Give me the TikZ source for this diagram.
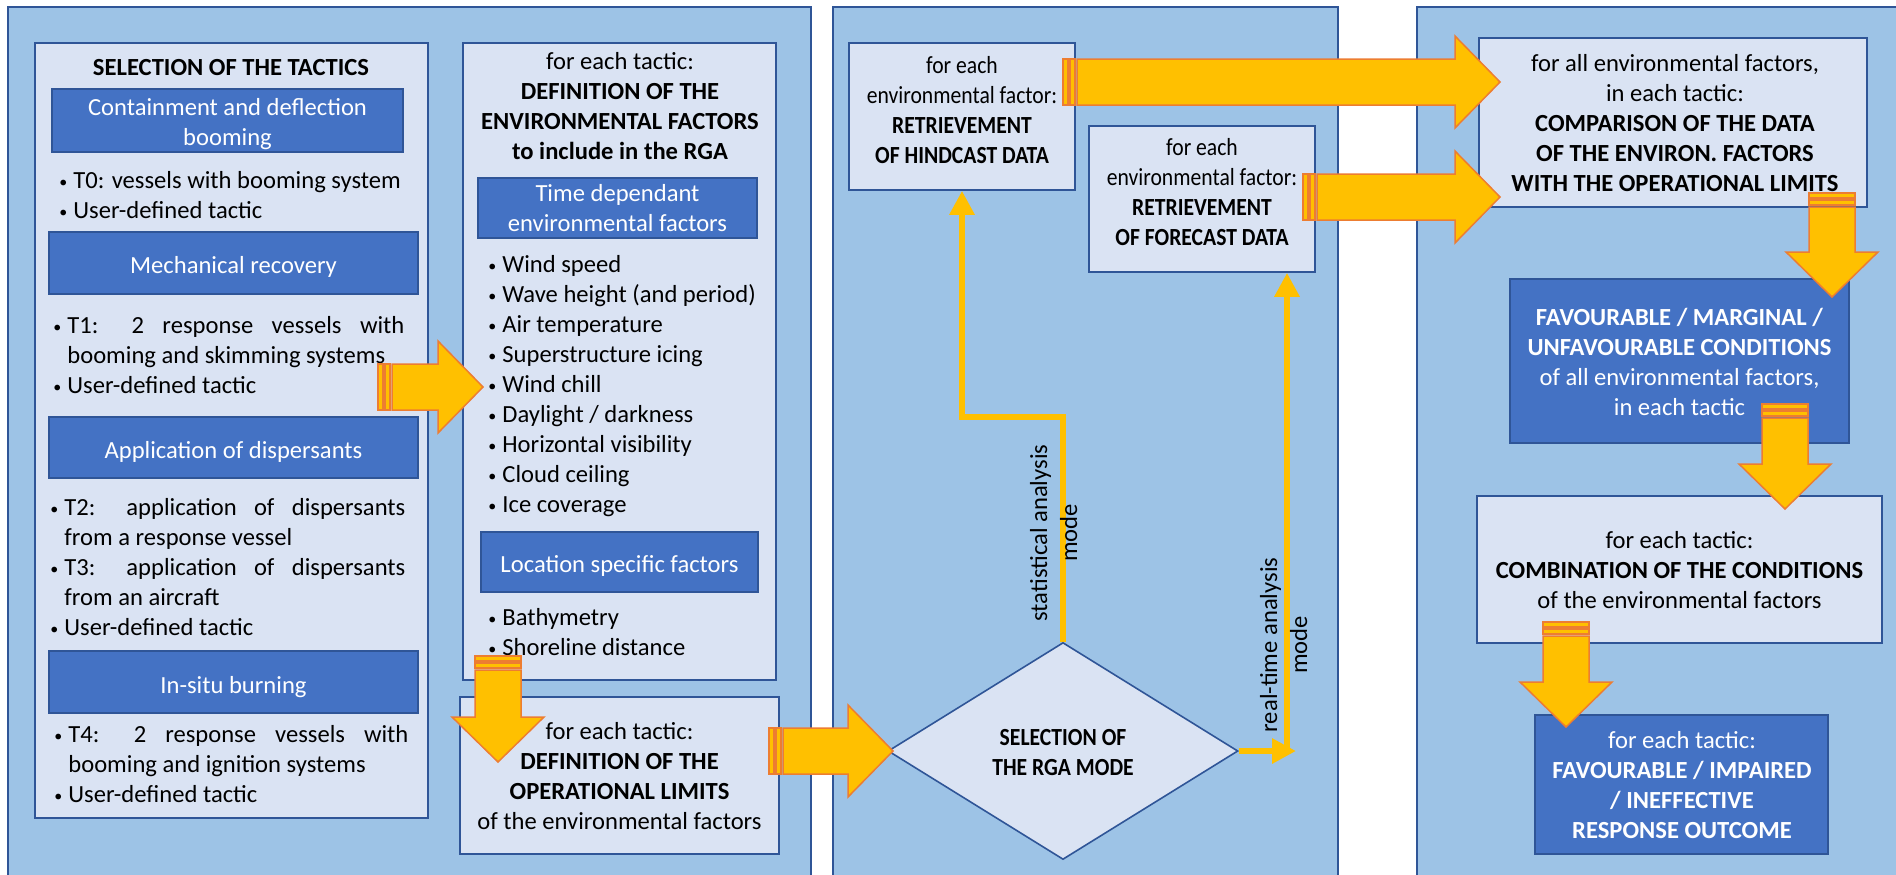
\documentclass[tikz,border=0pt]{standalone}
\usepackage{fontspec}
\setmainfont{Carlito}
\newfontfamily\narrowcal{Carlito}[FakeStretch=0.88]
\usetikzlibrary{shapes.geometric, arrows.meta, positioning, calc, fit}

\definecolor{panelblue}{HTML}{9DC3E6}
\definecolor{boxlight}{HTML}{DAE3F3}
\definecolor{boxdark}{HTML}{4472C4}
\definecolor{boxline}{HTML}{2F5597}
\definecolor{arrowyellow}{HTML}{FFC000}
\definecolor{arroworange}{HTML}{ED7D31}

% bullet item with hanging indent
\newcommand{\itm}[1]{\par\noindent\hangindent=7pt\hangafter=1%
  \makebox[7pt][l]{\strut\raisebox{0.4pt}{\fontsize{8pt}{8pt}\selectfont\textbullet}}#1\strut}

% striped block arrows (pixel units)
\newcommand{\fatright}[2]{%
  \filldraw[fatarrow] ($(#1)+(0,-23)$) rectangle ($(#1)+(5,23)$);
  \filldraw[fatarrow] ($(#1)+(7,-23)$) rectangle ($(#1)+(12,23)$);
  \filldraw[fatarrow] ($(#1)+(14,-23)$) -- ($(#2)+(-45,-23)$) -- ($(#2)+(-45,-46)$) -- (#2)
    -- ($(#2)+(-45,46)$) -- ($(#2)+(-45,23)$) -- ($(#1)+(14,23)$) -- cycle;}
\newcommand{\fatdown}[2]{%
  \filldraw[fatarrow] ($(#1)+(-23,0)$) rectangle ($(#1)+(23,5)$);
  \filldraw[fatarrow] ($(#1)+(-23,7)$) rectangle ($(#1)+(23,12)$);
  \filldraw[fatarrow] ($(#1)+(-23,14)$) -- ($(#2)+(-23,-45)$) -- ($(#2)+(-46,-45)$) -- (#2)
    -- ($(#2)+(46,-45)$) -- ($(#2)+(23,-45)$) -- ($(#1)+(23,14)$) -- cycle;}

\begin{document}
\begin{tikzpicture}[x=0.5pt, y=-0.5pt,
    every node/.style={font=\fontsize{12.3pt}{15pt}\selectfont, inner sep=0pt},
    panel/.style={draw=boxline, fill=panelblue, line width=0.8pt},
    lbox/.style={draw=boxline, fill=boxlight, line width=0.8pt},
    dbox/.style={draw=boxline, fill=boxdark, line width=0.8pt},
    txt/.style={align=center, execute at begin node=\strut, execute at end node=\strut},
    txtsm/.style={txt, font=\narrowcal\fontsize{12.3pt}{15pt}\selectfont},
    wtxt/.style={txt, text=white},
    bullets/.style={anchor=west, text width=#1, align=justify},
    fatarrow/.style={fill=arrowyellow, draw=arroworange, line width=0.75pt},
    modearrow/.style={draw=arrowyellow, line width=3pt, -{Triangle[width=12pt, length=12pt]}}]

    \useasboundingbox (0,0) rectangle (1896,874);

    % Panels
    \node[panel, fit={(8,7) (811,880)}] (P1) {};
    \node[panel, fit={(833,7) (1338,880)}] (P2) {};
    \node[panel, fit={(1417,7) (1900,880)}] (P3) {};

    % Selection of the tactics
    \node[lbox, fit={(35,43) (428,818)}] (TAC) {};
    \node[txt] (TACt) at (231,69) {\textbf{SELECTION OF THE TACTICS}};
    \node[dbox, fit={(52,89) (403,152)}] (CDB) {};
    \node[wtxt] (CDBt) at (227.5,126) {Containment and deflection\\booming};
    \node[bullets=176pt] (L0) at (59,193) {\itm{T0: vessels with booming system}\itm{User-defined tactic}};
    \node[dbox, fit={(49,232) (418,294)}] (MR) {};
    \node[wtxt] (MRt) at (233.5,267) {Mechanical recovery};
    \node[bullets=175.5pt] (L1) at (53,353) {\itm{T1: 2 response vessels with\linebreak booming and skimming systems}\itm{User-defined tactic}};
    \node[dbox, fit={(49,417) (418,478)}] (AD) {};
    \node[wtxt] (ADt) at (233.5,452) {Application of dispersants};
    \node[bullets=177.5pt] (L2) at (50,565) {\itm{T2: application of dispersants\linebreak from a response vessel}\itm{T3: application of dispersants\linebreak from an aircraft}\itm{User-defined tactic}};
    \node[dbox, fit={(49,651) (418,713)}] (ISB) {};
    \node[wtxt] (ISBt) at (233.5,687) {In-situ burning};
    \node[bullets=177pt] (L4) at (54,762) {\itm{T4: 2 response vessels with\linebreak booming and ignition systems}\itm{User-defined tactic}};

    % Environmental factors and operational limits
    \node[lbox, fit={(463,43) (776,680)}] (ENV) {};
    \node[txt] (ENVt) at (620,110) {for each tactic:\\\textbf{DEFINITION OF THE}\\\textbf{ENVIRONMENTAL FACTORS}\\\textbf{to include in the RGA}};
    \node[dbox, fit={(478,178) (757,238)}] (TD) {};
    \node[wtxt] (TDt) at (617.5,212) {Time dependant\\environmental factors};
    \node[bullets=140pt] (LTD) at (488,382) {\itm{Wind speed}\itm{Wave height (and period)}\itm{Air temperature}\itm{Superstructure icing}\itm{Wind chill}\itm{Daylight / darkness}\itm{Horizontal visibility}\itm{Cloud ceiling}\itm{Ice coverage}};
    \node[dbox, fit={(481,532) (758,592)}] (LS) {};
    \node[wtxt] (LSt) at (619.5,566) {Location specific factors};
    \node[bullets=140pt] (LLS) at (488,630) {\itm{Bathymetry}\itm{Shoreline distance}};
    \node[lbox, fit={(460,697) (779,854)}] (LIM) {};
    \node[txt] (LIMt) at (619.5,780) {for each tactic:\\\textbf{DEFINITION OF THE}\\\textbf{OPERATIONAL LIMITS}\\of the environmental factors};

    % RGA mode
    \node[lbox, fit={(849,43) (1075,190)}] (HIND) {};
    \node[txtsm] (HINDt) at (962,114) {for each\\environmental factor:\\\textbf{RETRIEVEMENT}\\\textbf{OF HINDCAST DATA}};
    \node[lbox, fit={(1089,126) (1315,272)}] (FORE) {};
    \node[txtsm] (FOREt) at (1202,196) {for each\\environmental factor:\\\textbf{RETRIEVEMENT}\\\textbf{OF FORECAST DATA}};
    \node[lbox, diamond, minimum width=175pt, minimum height=108.5pt] (MODE) at (1063,751) {};
    \node[txtsm] (MODEt) at (1063,757) {\textbf{SELECTION OF}\\\textbf{THE RGA MODE}};

    \coordinate (SB) at (962,417);
    \draw[modearrow] (MODE.north) |- (SB) -- (HIND.south);
    \node[txt, rotate=90] (STAT) at (1058,533) {statistical analysis\\mode};
    \coordinate (RT) at (1296,751);
    \coordinate (RB) at (1287,754);
    \draw[modearrow] (MODE.east) -- (RT);
    \draw[modearrow] (RB) -- (RB |- FORE.south);
    \node[txt, rotate=90] (REAL) at (1288,645) {real-time analysis\\mode};

    % Comparison and outcome
    \node[lbox, fit={(1479,38) (1867,207)}] (CMP) {};
    \node[txt] (CMPt) at (1675,127) {for all environmental factors,\\in each tactic:\\\textbf{COMPARISON OF THE DATA}\\\textbf{OF THE ENVIRON. FACTORS}\\\textbf{WITH THE OPERATIONAL LIMITS}};
    \node[dbox, fit={(1510,279) (1849,443)}] (COND) {};
    \node[wtxt] (CONDt) at (1679.5,366) {\textbf{FAVOURABLE / MARGINAL /}\\\textbf{UNFAVOURABLE CONDITIONS}\\of all environmental factors,\\in each tactic};
    \node[lbox, fit={(1477,496) (1882,643)}] (COMB) {};
    \node[txt] (COMBt) at (1679.5,574) {for each tactic:\\\textbf{COMBINATION OF THE CONDITIONS}\\of the environmental factors};
    \node[dbox, fit={(1535,715) (1828,854)}] (OUT) {};
    \node[wtxt] (OUTt) at (1682,789) {for each tactic:\\\textbf{FAVOURABLE / IMPAIRED}\\\textbf{/ INEFFECTIVE}\\\textbf{RESPONSE OUTCOME}};

    % Block arrows
    \coordinate (F1a) at (378,387);  \coordinate (F1b) at (483,387);
    \coordinate (F2a) at (498,656);  \coordinate (F2b) at (498,762);
    \coordinate (F3a) at (769,751);  \coordinate (F3b) at (893,751);
    \coordinate (F4a) at (1063,82);  \coordinate (F4b) at (1500,82);
    \coordinate (F5a) at (1303,197); \coordinate (F5b) at (1500,197);
    \coordinate (F6a) at (1832,193); \coordinate (F6b) at (1832,297);
    \coordinate (F7a) at (1785,404); \coordinate (F7b) at (1785,509);
    \coordinate (F8a) at (1566,622); \coordinate (F8b) at (1566,727);
    \fatright{F1a}{F1b}
    \fatdown{F2a}{F2b}
    \fatright{F3a}{F3b}
    \fatright{F4a}{F4b}
    \fatright{F5a}{F5b}
    \fatdown{F6a}{F6b}
    \fatdown{F7a}{F7b}
    \fatdown{F8a}{F8b}

\end{tikzpicture}
\end{document}
